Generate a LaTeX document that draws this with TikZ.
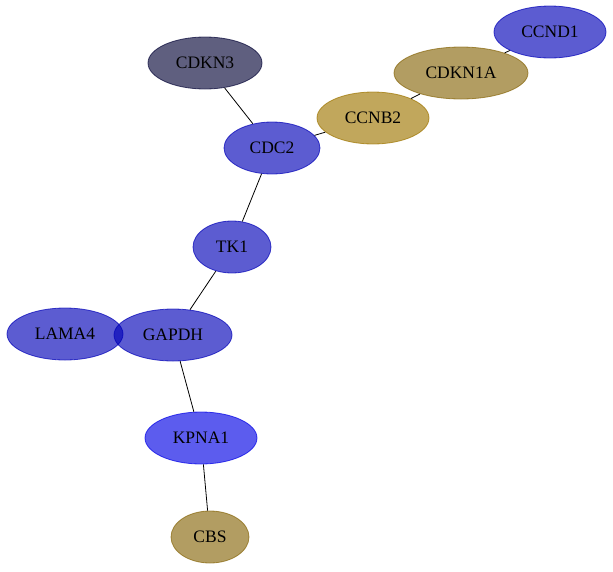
\documentclass[tikz,border=0pt]{standalone}
\usepackage{fontspec}
\setmainfont{Liberation Serif}
\usetikzlibrary{shapes.geometric}
\definecolor{blu}{RGB}{0,0,183}
\definecolor{kblu}{RGB}{0,0,229}
\definecolor{navy}{RGB}{5,5,55}
\definecolor{gld}{RGB}{134,101,9}
\definecolor{ygld}{RGB}{158,117,0}
\tikzstyle{gene}=[ellipse,inner sep=0pt,minimum height=52pt,fill opacity=.64,draw opacity=.7,line width=.8pt,text opacity=1,font=\fontsize{17.5}{20}\selectfont]
\tikzstyle{link}=[black,line width=.8pt]

\begin{document}
\begin{tikzpicture}[x=1pt,y=-1pt]
    \useasboundingbox (0,0) rectangle (613,571);
    \foreach \n/\w/\xs/\ys/\c in {CCND1/112/550/32/blu, CDKN1A/134/461/73/gld, CDKN3/114/205/63/navy, CCNB2/112/373/118/ygld, CDC2/96/272/148/blu, TK1/78/232/247/blu, LAMA4/116/65/334/blu, GAPDH/118/173/335/blu, KPNA1/112/201/438/kblu, CBS/78/210/537/gld}
        \node[gene,fill=\c,draw=\c,minimum width=\w pt] (\n) at (\xs,\ys) {\n};
    % links stop at the ellipse borders
    \foreach \a/\b in {CCND1/CDKN1A, CDKN1A/CCNB2, CCNB2/CDC2, CDKN3/CDC2, CDC2/TK1, TK1/GAPDH, GAPDH/KPNA1, KPNA1/CBS}
        \draw[link] (\a) -- (\b);
\end{tikzpicture}
\end{document}
